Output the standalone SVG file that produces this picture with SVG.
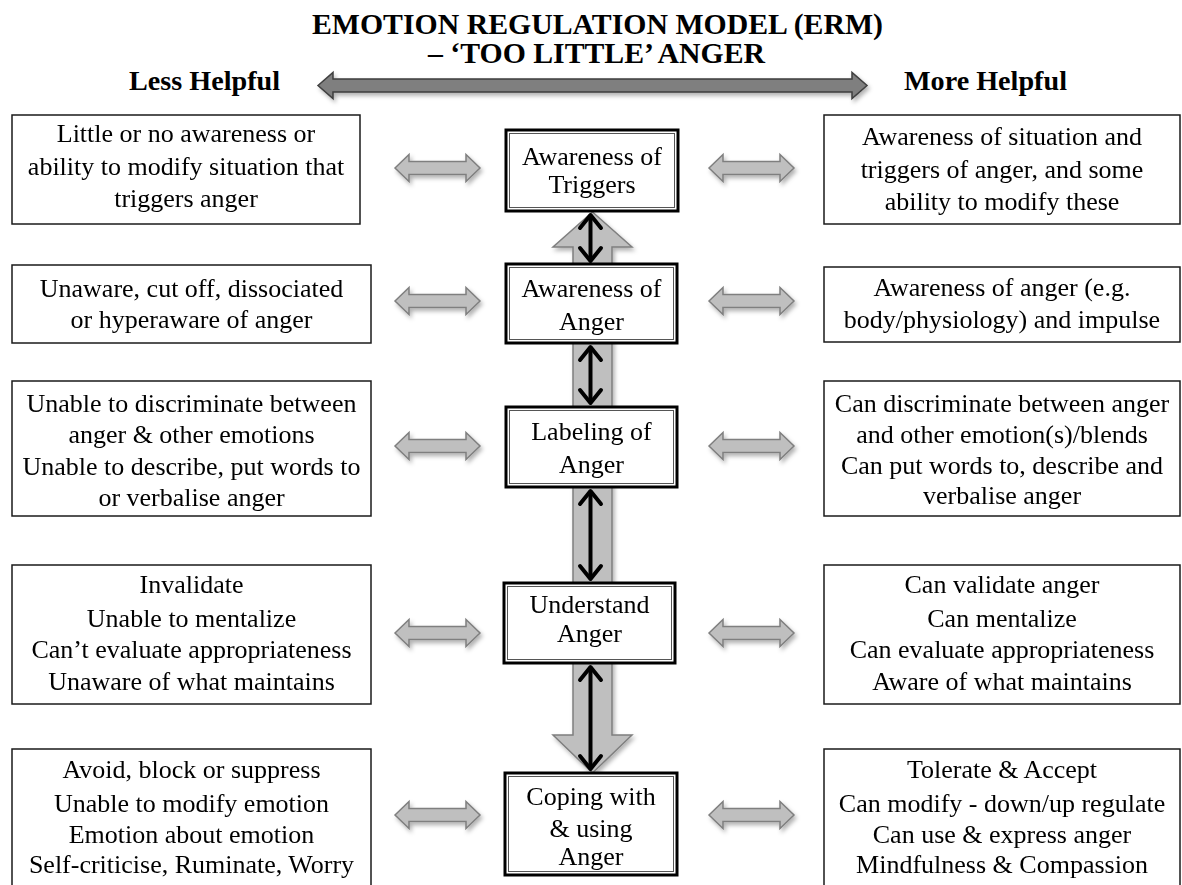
<svg xmlns="http://www.w3.org/2000/svg" xmlns:xlink="http://www.w3.org/1999/xlink" width="1182" height="885" viewBox="0 0 1182 885">
<style>
.t{font-family:"Liberation Serif","Times New Roman",serif;font-size:26px;text-anchor:middle;fill:#000}
.h{font-family:"Liberation Serif","Times New Roman",serif;font-weight:bold;fill:#000}
.side{fill:#fff;stroke:#1a1a1a;stroke-width:1.5}
.outer{fill:#fff;stroke:#000;stroke-width:3}
.inner{fill:none;stroke:#555;stroke-width:1}
.garrow{fill:#bfbfbf;stroke:#7f7f7f;stroke-width:1.5}
.blk{stroke:#000;stroke-width:4;fill:none}
</style>
<defs>
<filter id="sh" x="-20%" y="-20%" width="150%" height="160%">
<feDropShadow dx="2" dy="3" stdDeviation="2" flood-color="#000" flood-opacity="0.3"/>
</filter>
<path id="harrow" d="M0,0 L14,-13.5 L14,-6.5 L71,-6.5 L71,-13.5 L85,0 L71,13.5 L71,6.5 L14,6.5 L14,13.5 Z"/>
<marker id="chev" viewBox="-18 -14 22 28" refX="0" refY="0" markerWidth="22" markerHeight="28" markerUnits="userSpaceOnUse" orient="auto-start-reverse" overflow="visible">
<path d="M-13,-10.5 L0,0 L-13,10.5" fill="none" stroke="#000" stroke-width="4" stroke-linejoin="round" stroke-linecap="round"/>
</marker>
</defs>
<rect width="1182" height="885" fill="#fff"/>

<g id="title">
<text class="h" x="597.5" y="34" font-size="29" text-anchor="middle" textLength="571" lengthAdjust="spacingAndGlyphs">EMOTION REGULATION MODEL (ERM)</text>
<text class="h" x="596.5" y="63" font-size="29" text-anchor="middle" textLength="337" lengthAdjust="spacingAndGlyphs">– ‘TOO LITTLE’ ANGER</text>
<text class="h" x="129" y="90" font-size="27" textLength="151" lengthAdjust="spacingAndGlyphs">Less Helpful</text>
<text class="h" x="904" y="90" font-size="27" textLength="163" lengthAdjust="spacingAndGlyphs">More Helpful</text>
</g>

<g id="connectors-back">
<polygon points="318,85.5 333,72.5 333,79 852,79 852,72.5 867,85.5 852,98.5 852,92 333,92 333,98.5" fill="#7f7f7f" stroke="#3f3f3f" stroke-width="1.5" filter="url(#sh)"/>
<polygon class="garrow" filter="url(#sh)" points="592.5,212 632,247 612,247 612,735 632,735 592.5,773 553,735 573,735 573,247 553,247"/>
<g class="garrow" filter="url(#sh)">
<use xlink:href="#harrow" href="#harrow" x="395" y="168"/>
<use xlink:href="#harrow" href="#harrow" x="709" y="168"/>
<use xlink:href="#harrow" href="#harrow" x="395" y="301"/>
<use xlink:href="#harrow" href="#harrow" x="709" y="301"/>
<use xlink:href="#harrow" href="#harrow" x="395" y="446"/>
<use xlink:href="#harrow" href="#harrow" x="709" y="446"/>
<use xlink:href="#harrow" href="#harrow" x="395" y="633"/>
<use xlink:href="#harrow" href="#harrow" x="709" y="633"/>
<use xlink:href="#harrow" href="#harrow" x="395" y="815"/>
<use xlink:href="#harrow" href="#harrow" x="709" y="815"/>
</g>
</g>

<g id="left1"><rect class="side" x="12" y="115" width="348" height="109"/>
<text class="t" x="186" y="142">Little or no awareness or</text>
<text class="t" x="186" y="175">ability to modify situation that</text>
<text class="t" x="186" y="207">triggers anger</text></g>
<g id="left2"><rect class="side" x="12" y="265" width="359" height="78"/>
<text class="t" x="191.5" y="297">Unaware, cut off, dissociated</text>
<text class="t" x="191.5" y="328">or hyperaware of anger</text></g>
<g id="left3"><rect class="side" x="12" y="381" width="359" height="135"/>
<text class="t" x="191.5" y="412">Unable to discriminate between</text>
<text class="t" x="191.5" y="443">anger &amp; other emotions</text>
<text class="t" x="191.5" y="475">Unable to describe, put words to</text>
<text class="t" x="191.5" y="506">or verbalise anger</text></g>
<g id="left4"><rect class="side" x="12" y="565" width="359" height="139"/>
<text class="t" x="191.5" y="593">Invalidate</text>
<text class="t" x="191.5" y="627">Unable to mentalize</text>
<text class="t" x="191.5" y="658">Can’t evaluate appropriateness</text>
<text class="t" x="191.5" y="690">Unaware of what maintains</text></g>
<g id="left5"><rect class="side" x="12" y="749" width="359" height="150"/>
<text class="t" x="191.5" y="778">Avoid, block or suppress</text>
<text class="t" x="191.5" y="812">Unable to modify emotion</text>
<text class="t" x="191.5" y="843">Emotion about emotion</text>
<text class="t" x="191.5" y="873">Self-criticise, Ruminate, Worry</text></g>

<g id="right1"><rect class="side" x="824" y="115" width="356" height="109"/>
<text class="t" x="1002" y="145">Awareness of situation and</text>
<text class="t" x="1002" y="178">triggers of anger, and some</text>
<text class="t" x="1002" y="210">ability to modify these</text></g>
<g id="right2"><rect class="side" x="824" y="267" width="356" height="75"/>
<text class="t" x="1002" y="296">Awareness of anger (e.g.</text>
<text class="t" x="1002" y="328">body/physiology) and impulse</text></g>
<g id="right3"><rect class="side" x="824" y="381" width="356" height="135"/>
<text class="t" x="1002" y="412">Can discriminate between anger</text>
<text class="t" x="1002" y="443">and other emotion(s)/blends</text>
<text class="t" x="1002" y="474">Can put words to, describe and</text>
<text class="t" x="1002" y="504">verbalise anger</text></g>
<g id="right4"><rect class="side" x="824" y="565" width="356" height="139"/>
<text class="t" x="1002" y="593">Can validate anger</text>
<text class="t" x="1002" y="627">Can mentalize</text>
<text class="t" x="1002" y="658">Can evaluate appropriateness</text>
<text class="t" x="1002" y="690">Aware of what maintains</text></g>
<g id="right5"><rect class="side" x="824" y="749" width="356" height="150"/>
<text class="t" x="1002" y="778">Tolerate &amp; Accept</text>
<text class="t" x="1002" y="812">Can modify - down/up regulate</text>
<text class="t" x="1002" y="843">Can use &amp; express anger</text>
<text class="t" x="1002" y="873">Mindfulness &amp; Compassion</text></g>

<g id="center1"><rect class="outer" x="506" y="130" width="172" height="81"/><rect class="inner" x="509.5" y="133.5" width="165" height="74"/>
<text class="t" x="592" y="165">Awareness of</text>
<text class="t" x="592" y="193">Triggers</text></g>
<g id="center2"><rect class="outer" x="506" y="264" width="171" height="79"/><rect class="inner" x="509.5" y="267.5" width="164" height="72"/>
<text class="t" x="591.5" y="297">Awareness of</text>
<text class="t" x="591.5" y="330">Anger</text></g>
<g id="center3"><rect class="outer" x="506" y="407" width="171" height="80"/><rect class="inner" x="509.5" y="410.5" width="164" height="73"/>
<text class="t" x="591.5" y="440">Labeling of</text>
<text class="t" x="591.5" y="473">Anger</text></g>
<g id="center4"><rect class="outer" x="504" y="583" width="171" height="80"/><rect class="inner" x="507.5" y="586.5" width="164" height="73"/>
<text class="t" x="589.5" y="613">Understand</text>
<text class="t" x="589.5" y="642">Anger</text></g>
<g id="center5"><rect class="outer" x="505" y="773" width="172" height="102"/><rect class="inner" x="508.5" y="776.5" width="165" height="95"/>
<text class="t" x="591" y="805">Coping with</text>
<text class="t" x="591" y="837">&amp; using</text>
<text class="t" x="591" y="865">Anger</text></g>

<g id="connectors">
<line class="blk" x1="590.5" y1="215" x2="590.5" y2="261" marker-start="url(#chev)" marker-end="url(#chev)"/>
<line class="blk" x1="590.5" y1="347" x2="590.5" y2="403" marker-start="url(#chev)" marker-end="url(#chev)"/>
<line class="blk" x1="590.5" y1="491" x2="590.5" y2="579" marker-start="url(#chev)" marker-end="url(#chev)"/>
<line class="blk" x1="590.5" y1="667" x2="590.5" y2="769" marker-start="url(#chev)" marker-end="url(#chev)"/>
</g>
</svg>
